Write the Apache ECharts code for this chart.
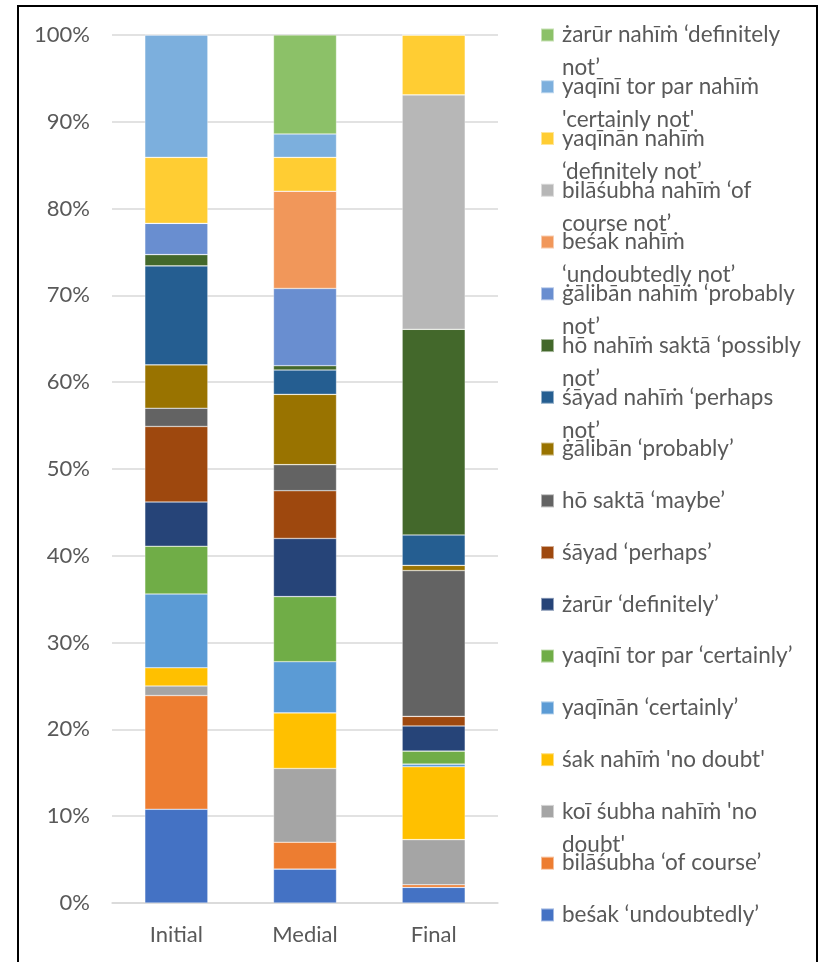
<!DOCTYPE html>
<html><head><meta charset="utf-8">
<script src="https://cdn.jsdelivr.net/npm/echarts@6/dist/echarts.min.js"></script>
<style>html,body{margin:0;padding:0;background:#fff}#c{width:825px;height:962px}</style>
</head><body><div id="c"></div>
<script>
const categories = ['Initial', 'Medial', 'Final'];
const yTickLabels = ['0%','10%','20%','30%','40%','50%','60%','70%','80%','90%','100%'];

const seriesNames = [
  "beśak ‘undoubtedly’",
  "bilāśubha ‘of course’",
  "koī śubha nahīṁ 'no doubt'",
  "śak nahīṁ 'no doubt'",
  "yaqīnān ‘certainly’",
  "yaqīnī tor par ‘certainly’",
  "żarūr ‘definitely’",
  "śāyad ‘perhaps’",
  "hō saktā ‘maybe’",
  "ġālibān ‘probably’",
  "śāyad nahīṁ ‘perhaps not’",
  "hō nahīṁ saktā ‘possibly not’",
  "ġālibān nahīṁ ‘probably not’",
  "beśak nahīṁ ‘undoubtedly not’",
  "bilāśubha nahīṁ ‘of course not’",
  "yaqīnān nahīṁ ‘definitely not’",
  "yaqīnī tor par nahīṁ 'certainly not'",
  "żarūr nahīṁ ‘definitely not’"
];
const legendLabels = [
  "beśak ‘undoubtedly’",
  "bilāśubha ‘of course’",
  "koī śubha nahīṁ 'no\ndoubt'",
  "śak nahīṁ 'no doubt'",
  "yaqīnān ‘certainly’",
  "yaqīnī tor par ‘certainly’",
  "żarūr ‘definitely’",
  "śāyad ‘perhaps’",
  "hō saktā ‘maybe’",
  "ġālibān ‘probably’",
  "śāyad nahīṁ ‘perhaps\nnot’",
  "hō nahīṁ saktā ‘possibly\nnot’",
  "ġālibān nahīṁ ‘probably\nnot’",
  "beśak nahīṁ\n‘undoubtedly not’",
  "bilāśubha nahīṁ ‘of\ncourse not’",
  "yaqīnān nahīṁ\n‘definitely not’",
  "yaqīnī tor par nahīṁ\n'certainly not'",
  "żarūr nahīṁ ‘definitely\nnot’"
];
const colors = ['#4472C4','#ED7D31','#A5A5A5','#FFC000','#5B9BD5','#70AD47','#264478','#9E480E','#636363','#997300','#255E91','#43682B','#698ED0','#F1975A','#B7B7B7','#FFCD33','#7CAFDD','#8CC168'];

// values in percent: [Initial, Medial, Final]
const besak            = [10.8, 3.9, 1.8];
const bilasubha        = [13.1, 3.1, 0.3];
const koiSubhaNahim    = [1.1, 8.5, 5.2];
const sakNahim         = [2.1, 6.4, 8.4];
const yaqinan          = [8.5, 5.9, 0.3];
const yaqiniTorPar     = [5.5, 7.5, 1.5];
const zarur            = [5.1, 6.7, 2.9];
const sayad            = [8.7, 5.5, 1.1];
const hoSakta          = [2.1, 3.0, 16.8];
const galiban          = [5.0, 8.1, 0.6];
const sayadNahim       = [11.4, 2.8, 3.5];
const hoNahimSakta     = [1.3, 0.5, 23.7];
const galibanNahim     = [3.6, 8.9, 0.0];
const besakNahim       = [0.0, 11.2, 0.0];
const bilasubhaNahim   = [0.0, 0.0, 27.0];
const yaqinanNahim     = [7.6, 3.9, 6.9];
const yaqiniTorParNahim= [14.1, 2.7, 0.0];
const zarurNahim       = [0.0, 11.4, 0.0];

const seriesValues = [besak, bilasubha, koiSubhaNahim, sakNahim, yaqinan, yaqiniTorPar, zarur, sayad, hoSakta, galiban, sayadNahim, hoNahimSakta, galibanNahim, besakNahim, bilasubhaNahim, yaqinanNahim, yaqiniTorParNahim, zarurNahim];

const FONT = 'Lato, "Noto Sans", "DejaVu Sans", sans-serif';
const TXT = '#595959';
const FS = 22;
const LFS = 22.5;
const LH = 33;

const chart = echarts.init(document.getElementById('c'), null, {renderer: 'canvas'});

const series = seriesNames.map((n, i) => ({
  name: n,
  type: 'bar',
  stack: 'all',
  barWidth: '49%',
  data: seriesValues[i],
  itemStyle: {color: colors[i], borderColor: 'rgba(255,255,255,0.5)', borderWidth: 0.6},
  emphasis: {disabled: true}
}));

// legends: top item is the last series; every label is laid out as 3 lines
// with the first text line in the middle, so it sits level with the marker
const legends = [];
const n = seriesNames.length;
for (let k = 0; k < n; k++) {
  const idx = n - 1 - k;
  const parts = legendLabels[idx].split('\n');
  const text = parts.length > 1 ? '\n' + parts.join('\n') : '\n' + parts[0] + '\n';
  const centerY = 35 + k * 51.76;
  legends.push({
    show: true,
    orient: 'vertical',
    left: 540,
    top: centerY - 1.5 * LH,
    padding: 0,
    itemWidth: 13,
    itemHeight: 13,
    icon: 'rect',
    selectedMode: false,
    data: [seriesNames[idx]],
    formatter: () => text,
    textStyle: {
      color: TXT, fontSize: LFS, fontFamily: FONT, lineHeight: LH,
      padding: [0, 0, 0, 3]
    }
  });
}

chart.setOption({
  backgroundColor: '#ffffff',
  animation: false,
  color: colors,
  grid: {left: 112, right: 327, top: 35, bottom: 59, containLabel: false},
  xAxis: {
    type: 'category',
    data: categories,
    axisLine: {lineStyle: {color: '#D9D9D9', width: 1.5}},
    axisTick: {show: false},
    axisLabel: {color: TXT, fontSize: FS, fontFamily: FONT, margin: 21}
  },
  yAxis: {
    type: 'value',
    min: 0, max: 100, interval: 10,
    axisLine: {show: false},
    axisTick: {show: false},
    splitLine: {lineStyle: {color: '#D9D9D9', width: 1.5}},
    axisLabel: {color: TXT, fontSize: FS, fontFamily: FONT, margin: 22,
      formatter: (v) => yTickLabels[Math.round(v / 10)]}
  },
  legend: legends,
  graphic: [{
    type: 'rect',
    shape: {x: 18, y: 6, width: 799, height: 1000},
    style: {fill: 'none', stroke: '#000000', lineWidth: 2},
    silent: true, z: 100
  }],
  series: series
});
</script></body></html>
